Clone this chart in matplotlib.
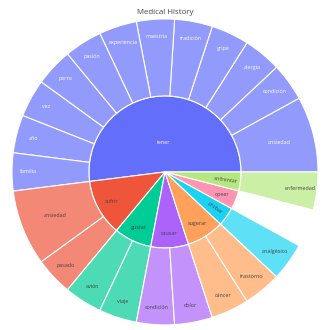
import matplotlib.pyplot as plt
import numpy as np
from matplotlib.colors import to_rgb

plt.rcParams['font.family'] = ['Open Sans', 'DejaVu Sans']

# Inner ring (first level)
parents = ['tener', 'sufrir', 'gustar', 'causar', 'sugerar', 'probar', 'opeer', 'enfrentar']
parent_values = [13, 3, 2, 2, 2, 1, 1, 1]
parent_colors = ['#636EFA', '#EF553B', '#00CC96', '#AB63FA', '#FFA15A', '#19D3F3', '#FF6692', '#B6E880']

# Outer ring (second level)
child_labels = ['ansiedad', 'condición', 'alergia', 'gripe', 'tradición', 'maestría',
                'experiencia', 'pasión', 'perro', 'vez', 'año', 'familia',
                'ansiedad', 'pasado', 'avión', 'viaje', 'condición', 'dolor',
                'cáncer', 'trastorno', 'analgésico', 'enfermedad']
child_parents = ['tener'] * 12 + ['sufrir'] * 2 + ['gustar'] * 2 + ['causar'] * 2 + \
                ['sugerar'] * 2 + ['probar'] + ['enfrentar']
child_values = [2, 1, 1, 1, 1, 1, 1, 1, 1, 1, 1, 1,
                2, 1, 1, 1, 1, 1, 1, 1, 1, 1]


def leaf(c):
    # plotly draws leaves at 0.7 opacity over white
    r = np.array(to_rgb(c))
    return tuple(r * 0.7 + 0.3)


# build outer ring in parent order, with a blank gap where a parent has no children
outer_vals, outer_cols, outer_labs, outer_par = [], [], [], []
inner_cols = []
for p, v, c in zip(parents, parent_values, parent_colors):
    kids = [i for i, cp in enumerate(child_parents) if cp == p]
    for i in kids:
        outer_vals.append(child_values[i])
        outer_cols.append(leaf(c))
        outer_labs.append(child_labels[i])
        outer_par.append(p)
    rest = v - sum(child_values[i] for i in kids)
    if rest > 0:
        outer_vals.append(rest)
        outer_cols.append('none')
        outer_labs.append('')
        outer_par.append(p)
    inner_cols.append(c if kids else leaf(c))

fig = plt.figure(figsize=(3.3, 3.3), dpi=100)
R = 0.4636
ax = fig.add_axes([0.5 - R, 0.479 - R, 2 * R, 2 * R])

r_in = 0.497
wp = dict(edgecolor='white', linewidth=0.8)
inner, _ = ax.pie(parent_values, radius=r_in, colors=inner_cols, startangle=0,
                  counterclock=True, wedgeprops=wp)
outer, _ = ax.pie(outer_vals, radius=1.0, colors=outer_cols, startangle=0,
                  counterclock=True, wedgeprops=dict(width=1 - r_in, **wp))
for w, c in zip(outer, outer_cols):
    if c == 'none':
        w.set_edgecolor('none')

radial_labels = ['probar', 'enfrentar']
for w, lab in zip(inner, parents):
    mid = np.deg2rad((w.theta1 + w.theta2) / 2)
    span = w.theta2 - w.theta1
    r = 0.19 if span > 90 else 0.40
    col = 'white' if lab == 'tener' else '#444444'
    rot = np.rad2deg(mid) - 360 if lab in radial_labels else 0
    ax.text(r * np.cos(mid), r * np.sin(mid), lab, ha='center', va='center',
            fontsize=3.9, color=col, rotation=rot)

for w, lab, p, v in zip(outer, outer_labs, outer_par, outer_vals):
    if not lab:
        continue
    mid = np.deg2rad((w.theta1 + w.theta2) / 2)
    r = 0.89 if v == 1 else 0.77
    col = 'white' if p == 'tener' else '#444444'
    ax.text(r * np.cos(mid), r * np.sin(mid), lab, ha='center', va='center',
            fontsize=3.9, color=col)

ax.set_xlim(-1, 1)
ax.set_ylim(-1, 1)
ax.axis('off')

fig.text(0.5, 1 - 12 / 330, 'Medical History', ha='center', va='center',
         fontsize=5.7, color='#444444')

fig.savefig('out.png', dpi=100)
